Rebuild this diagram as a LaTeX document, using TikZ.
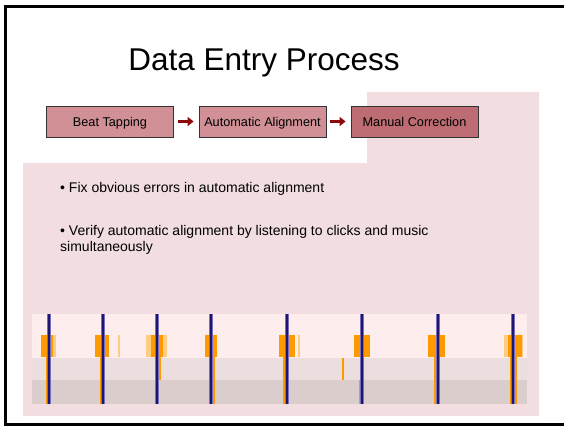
\documentclass[tikz,border=0pt]{standalone}
\usepackage{fontspec}
\setmainfont{Liberation Sans}
\usetikzlibrary{arrows.meta}

\definecolor{panel}{RGB}{242,222,224}
\definecolor{boxfill}{RGB}{208,144,149}
\definecolor{boxfilldark}{RGB}{188,108,114}
\definecolor{arrowred}{RGB}{140,10,10}
\definecolor{bandtop}{RGB}{253,237,237}
\definecolor{bandmid}{RGB}{236,222,222}
\definecolor{bandlow}{RGB}{220,205,205}
\definecolor{beatorange}{RGB}{255,153,0}
\definecolor{beatlight}{RGB}{255,205,130}
\definecolor{beatnavy}{RGB}{30,22,110}
\definecolor{beatnavyhalo}{RGB}{120,110,190}

\tikzset{
  stagebox/.style={draw=black!80, line width=0.8pt, fill=boxfill,
    minimum width=127pt, minimum height=31pt, inner sep=0pt,
    text height=12pt, text depth=1.2pt,
    font=\fontsize{12.7}{14}\selectfont},
  flowarrow/.style={draw=arrowred, line width=2.6pt,
    -{Triangle[length=6pt,width=9pt]}, shorten <=4pt, shorten >=5pt},
  bullettext/.style={anchor=north west, align=left, inner sep=0pt,
    font=\fontsize{14}{16}\selectfont},
  onset/.style={fill=beatorange},
  onsetlight/.style={fill=beatlight},
}

\begin{document}
\begin{tikzpicture}[x=1pt,y=-1pt]
\useasboundingbox (0,0) rectangle (564,426);

% highlighted panel behind the current stage and its details
\fill[panel] (23,163) -- (367,163) -- (367,92) -- (539,92)
  -- (539,416) -- (23,416) -- cycle;

% slide frame
\draw[line width=3pt] (570,6.5) -- (5.5,6.5) -- (5.5,424.5) -- (570,424.5);

% title
\node[font=\fontsize{31.5}{36}\selectfont] (title) at (264,63) {Data Entry Process};

% process stages
\node[stagebox] (tap) at (110,121.5) {Beat Tapping};
\node[stagebox] (auto) at (262.5,121.5) {Automatic Alignment};
\node[stagebox, fill=boxfilldark] (manual) at (414.5,121.5) {Manual Correction};
\draw[flowarrow] (tap) -- (auto);
\draw[flowarrow] (auto) -- (manual);

% bullet points
\node[bullettext] (b1) at (60,182) {• Fix obvious errors in automatic alignment};
\node[bullettext] (b2) at (60,225) {• Verify automatic alignment by listening to clicks and music\\simultaneously};

% alignment view: three tracks
\fill[bandtop] (32,314) rectangle (527,358);
\fill[bandmid] (32,358) rectangle (527,380);
\fill[bandlow] (32,380) rectangle (527,404);

% detected onsets (orange blocks)
\fill[onsetlight] (41,335) rectangle (56,357);
\fill[onset] (41,335) rectangle (53,357);
\fill[onset] (95,335) rectangle (109,357);
\fill[onsetlight] (117.5,335) rectangle (120,357);
\fill[onsetlight] (146,335) rectangle (167,357);
\fill[onset] (151,335) rectangle (163,357);
\fill[onset] (205,335) rectangle (217,357);
\fill[onset] (279,335) rectangle (295,357);
\fill[onsetlight] (298,335) rectangle (300,357);
\fill[onset] (354,335) rectangle (370,357);
\fill[onset] (428,335) rectangle (445,357);
\fill[onsetlight] (504,335) rectangle (523,357);
\fill[onset] (508,335) rectangle (522,357);

% onset traces in the lower tracks
\fill[onset] (45.5,357) rectangle (47.5,404);
\fill[onset] (99.5,357) rectangle (101.5,404);
\fill[onset] (158.5,357) rectangle (161,380);
\fill[onset] (212.5,357) rectangle (215,404);
\fill[onset] (282.5,357) rectangle (285,404);
\fill[onset] (341.5,358) rectangle (344,380);
\fill[onset] (359,380) rectangle (360.5,404);
\fill[onset] (434,357) rectangle (436.2,404);
\fill[onset] (509.5,357) rectangle (511.3,404);
\fill[onset] (514.8,357) rectangle (516.5,404);

% beat markers
\foreach \bx in {49,103,157,211,287,362,438,513} {
  \draw[beatnavyhalo, line width=3.2pt] (\bx,314) -- (\bx,404);
  \draw[beatnavy, line width=2pt] (\bx,314) -- (\bx,404);
}
\end{tikzpicture}
\end{document}
